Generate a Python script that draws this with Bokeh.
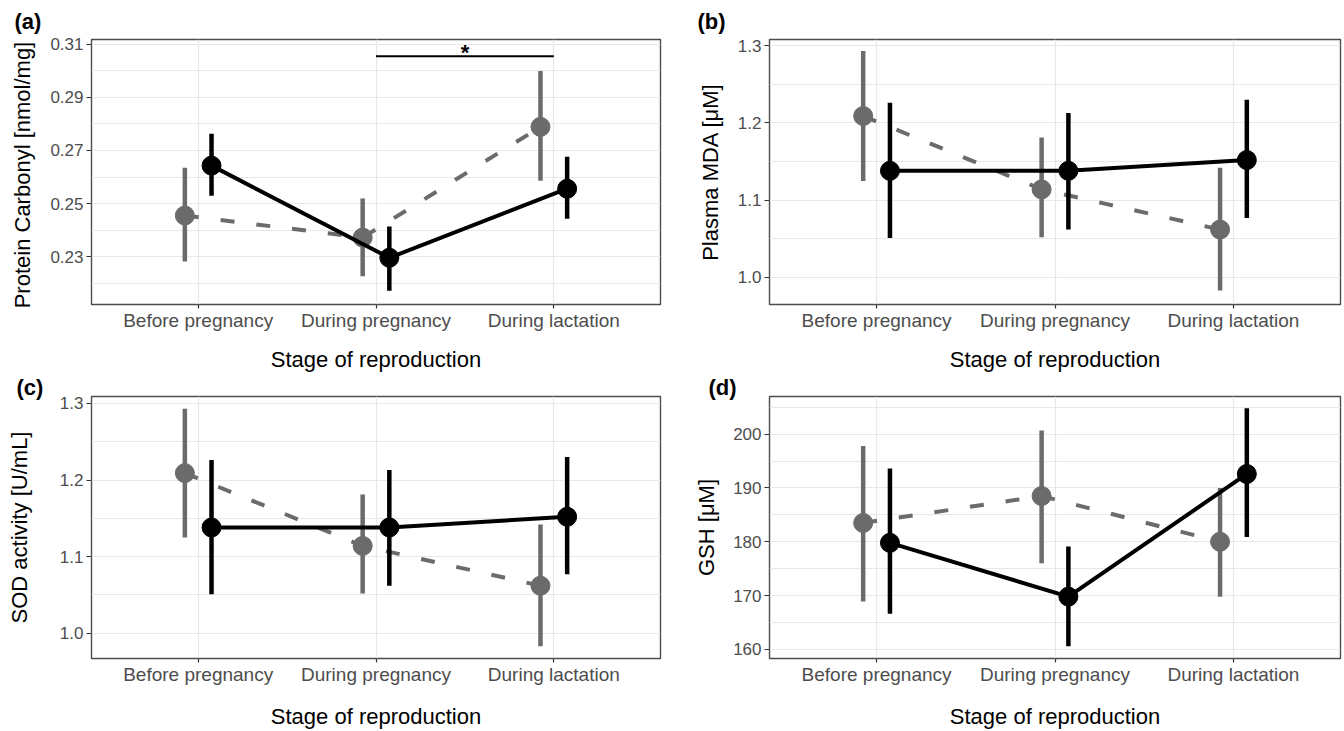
from bokeh.plotting import figure
from bokeh.models import ColumnDataSource, FixedTicker, NumeralTickFormatter, Range1d
from bokeh.layouts import gridplot
from bokeh.embed import file_html
from bokeh.resources import INLINE
from bokeh.core.properties import value

# ---------------- data ----------------
stages = ["Before pregnancy", "During pregnancy", "During lactation"]
x_title = "Stage of reproduction"

# (a) Protein carbonyl
carbonyl_grey_mean = [0.2455, 0.2372, 0.2789]
carbonyl_grey_low = [0.2282, 0.2226, 0.2586]
carbonyl_grey_high = [0.2635, 0.2519, 0.2999]
carbonyl_black_mean = [0.2643, 0.2296, 0.2556]
carbonyl_black_low = [0.2530, 0.2172, 0.2443]
carbonyl_black_high = [0.2763, 0.2414, 0.2676]
carbonyl_ticks = [0.23, 0.25, 0.27, 0.29, 0.31]
carbonyl_minor = [0.22, 0.24, 0.26, 0.28, 0.30]
sig_from = "During pregnancy"
sig_to = "During lactation"
sig_level = 0.3055
sig_label = "*"

# (b) Plasma MDA
mda_grey_mean = [1.209, 1.114, 1.062]
mda_grey_low = [1.125, 1.052, 0.983]
mda_grey_high = [1.293, 1.181, 1.142]
mda_black_mean = [1.138, 1.138, 1.152]
mda_black_low = [1.051, 1.062, 1.077]
mda_black_high = [1.226, 1.213, 1.230]
mda_ticks = [1.0, 1.1, 1.2, 1.3]
mda_minor = [1.05, 1.15, 1.25]

# (c) SOD activity
sod_grey_mean = [1.209, 1.114, 1.062]
sod_grey_low = [1.125, 1.052, 0.983]
sod_grey_high = [1.293, 1.181, 1.142]
sod_black_mean = [1.138, 1.138, 1.152]
sod_black_low = [1.051, 1.062, 1.077]
sod_black_high = [1.226, 1.213, 1.230]
sod_ticks = [1.0, 1.1, 1.2, 1.3]
sod_minor = [1.05, 1.15, 1.25]

# (d) GSH
gsh_grey_mean = [183.5, 188.5, 180.0]
gsh_grey_low = [168.9, 176.0, 169.8]
gsh_grey_high = [197.8, 200.7, 190.0]
gsh_black_mean = [179.8, 169.8, 192.6]
gsh_black_low = [166.6, 160.6, 180.9]
gsh_black_high = [193.6, 179.1, 204.8]
gsh_ticks = [160, 170, 180, 190, 200]
gsh_minor = [165, 175, 185, 195, 205]

# ---------------- style ----------------
FONT = "Liberation Sans"
GREY = "#6b6b6b"
DODGE = 0.075
GRID = "#e8e8e8"


def make_panel(tag, tag_dx, tag_standoff, ylabel, ylabel_standoff, xlabel_standoff,
               grey, black, yr, ticks, minor, fmt, width, height,
               mb_left, mb_right, mb_top, mb_bottom):
    p = figure(width=width, height=height, output_backend="svg", toolbar_location=None,
               x_range=Range1d(0.4, 3.6), y_range=Range1d(*yr),
               min_border_left=mb_left, min_border_right=mb_right,
               min_border_top=mb_top, min_border_bottom=mb_bottom)
    p.background_fill_color = "white"
    p.border_fill_color = "white"
    p.outline_line_color = "#4d4d4d"
    p.outline_line_width = 1.4

    p.title.text = tag
    p.title.align = "left"
    p.title.offset = tag_dx
    p.title.standoff = tag_standoff
    p.title.text_font = FONT
    p.title.text_font_size = "22px"
    p.title.text_font_style = "bold"
    p.title.text_color = "black"

    xpos = [i + 1 for i in range(len(stages))]

    # grids
    p.xgrid.ticker = FixedTicker(ticks=xpos)
    p.xgrid.grid_line_color = GRID
    p.xgrid.grid_line_width = 1.2
    p.ygrid.ticker = FixedTicker(ticks=ticks, minor_ticks=minor)
    p.ygrid.grid_line_color = GRID
    p.ygrid.grid_line_width = 1.2
    p.ygrid.minor_grid_line_color = GRID
    p.ygrid.minor_grid_line_width = 1.0

    # axes
    p.xaxis.ticker = FixedTicker(ticks=xpos)
    p.xaxis.major_label_overrides = {i + 1: s for i, s in enumerate(stages)}
    p.yaxis.ticker = FixedTicker(ticks=ticks)
    p.yaxis.formatter = NumeralTickFormatter(format=fmt)
    for ax in (p.xaxis[0], p.yaxis[0]):
        ax.axis_line_color = None
        ax.major_tick_line_color = "#333333"
        ax.major_tick_line_width = 1.2
        ax.major_tick_in = 0
        ax.minor_tick_line_color = None
        ax.major_label_text_color = "#4d4d4d"
        ax.major_label_text_font = FONT
        ax.axis_label_text_font = FONT
        ax.axis_label_text_font_style = "normal"
        ax.axis_label_text_color = "black"
        ax.axis_label_text_font_size = "22px"
    p.xaxis.major_tick_out = 4
    p.xaxis.major_label_standoff = 1
    p.xaxis.major_label_text_font_size = "19px"
    p.xaxis.axis_label = x_title
    p.xaxis.axis_label_standoff = xlabel_standoff
    p.yaxis.major_tick_out = 5
    p.yaxis.major_label_standoff = 3
    p.yaxis.major_label_text_font_size = "17px"
    p.yaxis.axis_label = ylabel
    p.yaxis.axis_label_standoff = ylabel_standoff

    # series: grey dashed first, black solid on top
    for (mean, low, high), color, dash, off in ((grey, GREY, "14 22", -DODGE),
                                                (black, "black", "solid", DODGE)):
        src = ColumnDataSource(dict(x=[x + off for x in xpos], m=mean, lo=low, hi=high))
        p.line("x", "m", source=src, line_color=color, line_width=4, line_dash=dash)
        p.segment("x", "lo", "x", "hi", source=src, line_color=color, line_width=4.5)
        p.scatter("x", "m", source=src, size=19, fill_color=color, line_color=color)
    return p


W1 = 672
W2 = 1344 - W1
H1 = 375
H2 = 731 - H1

pa = make_panel("(a)", -77, 12, "Protein Carbonyl  [nmol/mg]", 12, 13,
                (carbonyl_grey_mean, carbonyl_grey_low, carbonyl_grey_high),
                (carbonyl_black_mean, carbonyl_black_low, carbonyl_black_high),
                (0.212, 0.3118), carbonyl_ticks, carbonyl_minor, "0.00",
                W1, H1, 91, W1 - 660, 39, 71)
i0 = stages.index(sig_from) + 1
i1 = stages.index(sig_to) + 1
pa.segment(x0=[i0], y0=[sig_level], x1=[i1], y1=[sig_level], line_color="black", line_width=2)
pa.text(x=[(i0 + i1) / 2], y=[sig_level], text=[sig_label], text_align="center",
        text_baseline="alphabetic", y_offset=-4, text_font=value(FONT),
        text_font_size=value("22px"), text_font_style="bold", text_color="black")

pb = make_panel("(b)", -72, 12, "Plasma MDA [μM]", 12, 13,
                (mda_grey_mean, mda_grey_low, mda_grey_high),
                (mda_black_mean, mda_black_low, mda_black_high),
                (0.965, 1.308), mda_ticks, mda_minor, "0.0",
                W2, H1, 769 - W1, 4, 39, 71)

pc = make_panel("(c)", -75, -7, "SOD activity [U/mL]", 25, 16,
                (sod_grey_mean, sod_grey_low, sod_grey_high),
                (sod_black_mean, sod_black_low, sod_black_high),
                (0.967, 1.309), sod_ticks, sod_minor, "0.0",
                W1, H2, 91, W1 - 660, 21, 73)

pd_ = make_panel("(d)", -61, -7, "GSH [μM]", 11, 16,
                 (gsh_grey_mean, gsh_grey_low, gsh_grey_high),
                 (gsh_black_mean, gsh_black_low, gsh_black_high),
                 (158.3, 207.0), gsh_ticks, gsh_minor, "0",
                 W2, H2, 769 - W1, 4, 21, 73)

grid = gridplot([[pa, pb], [pc, pd_]], toolbar_location=None)

open("out.html", "w").write(file_html(grid, INLINE))
